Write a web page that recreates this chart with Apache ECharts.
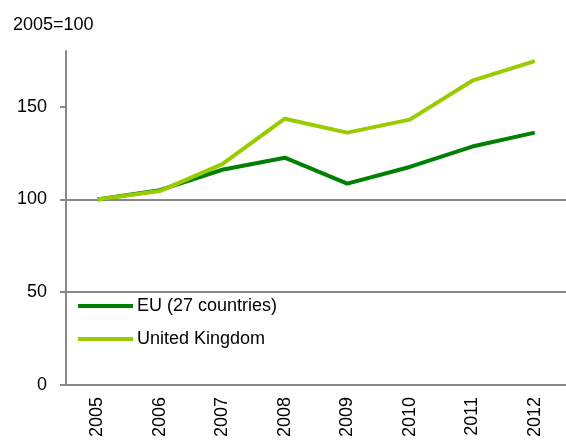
<!DOCTYPE html>
<html lang="en">
<head>
  <meta charset="UTF-8">
  <title>Index 2005=100</title>
  <script src="https://cdn.jsdelivr.net/npm/echarts@6/dist/echarts.min.js"></script>
  <style>
    body { margin: 0; background: #fff; }
  </style>
</head>
<body>
  <div id="main" style="width: 566px;height:440px;"></div>
  <script>
    const years = ['2005', '2006', '2007', '2008', '2009', '2010', '2011', '2012'];
    const euValues = [100, 105, 116, 122.5, 108.5, 117.5, 128.5, 136];
    const ukValues = [100, 104.5, 119, 143.5, 136, 143, 164, 174.5];
    const yTicks = [0, 50, 100, 150];

    const font = 'Liberation Sans, Arial, sans-serif';
    const myChart = echarts.init(document.getElementById('main'));

    const options = {
      animation: false,
      title: {
        text: '2005=100',
        left: 8,
        top: 11,
        textStyle: { fontFamily: font, fontSize: 18, fontWeight: 'normal', color: '#000' }
      },
      legend: {
        orient: 'vertical',
        left: 73,
        top: 292,
        icon: 'rect',
        itemWidth: 55,
        itemHeight: 4,
        itemGap: 15,
        textStyle: { fontFamily: font, fontSize: 18, color: '#000', padding: [0, 0, 0, -1] },
        data: ['EU (27 countries)', 'United Kingdom']
      },
      grid: {
        left: 66,
        right: -10,
        top: 51,
        bottom: 55
      },
      xAxis: {
        type: 'category',
        data: years,
        axisLine: { lineStyle: { color: '#888', width: 2 } },
        axisTick: { length: 5, lineStyle: { color: '#888', width: 2 } },
        axisLabel: {
          rotate: 90,
          margin: 12,
          fontFamily: font,
          fontSize: 18,
          color: '#000'
        }
      },
      yAxis: {
        type: 'value',
        min: 0,
        max: 180,
        interval: 50,
        axisLine: { show: true, lineStyle: { color: '#888', width: 2 } },
        axisTick: { show: true, length: 6, customValues: yTicks, lineStyle: { color: '#888', width: 2 } },
        axisLabel: {
          margin: 19,
          customValues: yTicks,
          fontFamily: font,
          fontSize: 18,
          color: '#000'
        },
        splitLine: { showMaxLine: false, lineStyle: { color: '#888', width: 2 } }
      },
      series: [
        {
          name: 'EU (27 countries)',
          type: 'line',
          symbol: 'none',
          data: euValues,
          lineStyle: { color: '#008000', width: 4 },
          itemStyle: { color: '#008000' }
        },
        {
          name: 'United Kingdom',
          type: 'line',
          symbol: 'none',
          data: ukValues,
          lineStyle: { color: '#99cc00', width: 4 },
          itemStyle: { color: '#99cc00' }
        }
      ]
    };

    myChart.setOption(options);
  </script>
</body>
</html>
